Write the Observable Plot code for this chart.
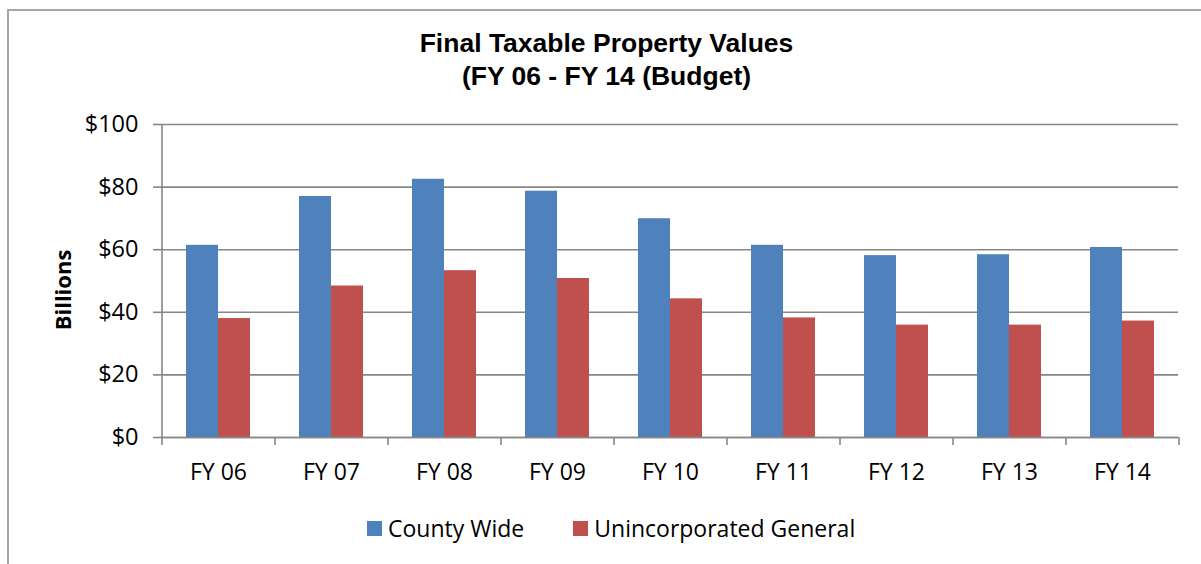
<!DOCTYPE html>
<html>
<head>
<meta charset="utf-8">
<script src="https://cdn.jsdelivr.net/npm/d3@7"></script>
<script src="https://cdn.jsdelivr.net/npm/@observablehq/plot@0.6"></script>
<style>
  html, body { margin: 0; padding: 0; background: #fff; }
  #wrap { position: relative; width: 1201px; height: 564px; overflow: hidden; background: #fff; }
  #frame { position: absolute; left: 7px; top: 9px; width: 1300px; height: 700px; border-left: 2px solid #a6a6a6; border-top: 2px solid #a6a6a6; }
  #title { position: absolute; left: 12px; width: 1189px; top: 27px; text-align: center; font-family: "Liberation Sans", Arial, sans-serif; font-weight: bold; font-size: 26.5px; line-height: 33px; color: #000; }
  #chart { position: absolute; left: 0; top: 100px; }
  #ylabel { position: absolute; left: 62px; top: 290px; transform: translate(-50%, -50%) rotate(-90deg); font-family: "Open Sans", sans-serif; font-weight: bold; font-size: 22px; color: #000; white-space: nowrap; }
  #legend { position: absolute; left: 367px; top: 512px; display: flex; align-items: center; font-family: "Open Sans", sans-serif; font-size: 23px; color: #000; }
  .item { display: flex; align-items: center; margin-right: 49px; }
  .sw { width: 15px; height: 15px; margin-right: 6px; }
</style>
</head>
<body>
<div id="wrap">
  <div id="frame"></div>
  <div id="title">Final Taxable Property Values<br>(FY 06 - FY 14 (Budget)</div>
  <div id="chart"></div>
  <div id="ylabel">Billions</div>
  <div id="legend"></div>
</div>
<script>
const categories = ["FY 06", "FY 07", "FY 08", "FY 09", "FY 10", "FY 11", "FY 12", "FY 13", "FY 14"];
const countyWide = [61.4, 77.0, 82.5, 78.7, 69.9, 61.4, 58.1, 58.4, 60.7];
const unincorporatedGeneral = [38.0, 48.4, 53.3, 50.8, 44.3, 38.2, 35.9, 35.9, 37.2];
const seriesNames = ["County Wide", "Unincorporated General"];
const seriesColors = ["#4F81BD", "#C0504D"];
const yTicks = [0, 20, 40, 60, 80, 100];

const data = categories.map((c, i) => ({cat: c, county: countyWide[i], uninc: unincorporatedGeneral[i]}));

const W = 1201, H = 390, mL = 161, mR = 23, mT = 24, mB = 53;
const pIn = 0.434, pOut = pIn / 2;
const step = (W - mL - mR) / (categories.length - pIn + 2 * pOut);
const bw = step * (1 - pIn);
const axisColor = "#868686";

const plot = Plot.plot({
  width: W, height: H,
  marginLeft: mL, marginRight: mR, marginTop: mT, marginBottom: mB,
  style: {fontFamily: "'Open Sans', sans-serif", fontSize: "23px", color: "#000", background: "transparent", overflow: "visible"},
  x: {domain: categories, paddingInner: pIn, paddingOuter: pOut, align: 0.5, label: null},
  y: {domain: [0, 100], label: null},
  marks: [
    Plot.gridY(yTicks, {stroke: axisColor, strokeOpacity: 1, strokeWidth: 1.6}),
    Plot.barY(data, {x: "cat", y: "county", fill: seriesColors[0], insetRight: bw / 2}),
    Plot.barY(data, {x: "cat", y: "uninc", fill: seriesColors[1], insetLeft: bw / 2}),
    Plot.ruleY([0], {stroke: axisColor, strokeWidth: 1.6}),
    Plot.ruleX([categories[0]], {y1: 100, y2: 0, dx: -step / 2, insetBottom: -8, stroke: axisColor, strokeWidth: 1.6}),
    Plot.ruleX(categories.slice(1), {y1: 0, y2: 0, dx: -step / 2, insetBottom: -8, stroke: axisColor, strokeWidth: 1.6}),
    Plot.ruleX([categories[categories.length - 1]], {y1: 0, y2: 0, dx: step / 2, insetBottom: -8, stroke: axisColor, strokeWidth: 1.6}),
    Plot.axisY(yTicks, {tickSize: 8, tickPadding: 15, tickFormat: d => "$" + d, stroke: axisColor, strokeWidth: 1.6, label: null, fontSize: 23.5}),
    Plot.axisX({tickSize: 0, tickPadding: 26, label: null, fontSize: 23})
  ]
});
document.getElementById("chart").appendChild(plot);

const legend = document.getElementById("legend");
seriesNames.forEach((name, i) => {
  const item = document.createElement("div");
  item.className = "item";
  const sw = document.createElement("div");
  sw.className = "sw";
  sw.style.background = seriesColors[i];
  const t = document.createElement("span");
  t.textContent = name;
  item.appendChild(sw);
  item.appendChild(t);
  legend.appendChild(item);
});
</script>
</body>
</html>
